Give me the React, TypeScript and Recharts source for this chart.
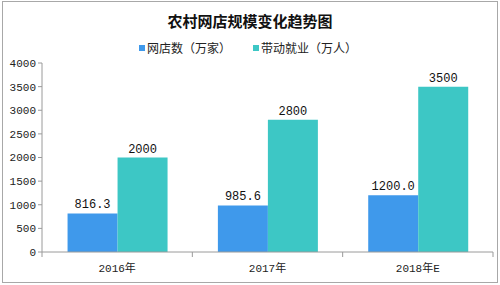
import { BarChart, Bar, XAxis, YAxis, LabelList } from "recharts";

const years = ["2016年", "2017年", "2018年E"];
const shopCounts = [816.3, 985.6, 1200.0];
const jobCounts = [2000, 2800, 3500];
const yTicks = [0, 500, 1000, 1500, 2000, 2500, 3000, 3500, 4000];

const SHOP_NAME = "网店数（万家）";
const JOB_NAME = "带动就业（万人）";
const BLUE = "#3f99eb";
const TEAL = "#3dc7c5";
const AXIS = "#9a9a9a";
const MONO = "'Liberation Mono', 'Noto Sans CJK SC', monospace";

const data = years.map((year, i) => ({ year, shops: shopCounts[i], jobs: jobCounts[i] }));

function CategoryTick(props: any) {
  const { x, y, payload, index, width } = props;
  const band = (width || 451) / years.length;
  const left = x - band / 2;
  return (
    <g>
      <line x1={left} y1={y - 8} x2={left} y2={y - 3} stroke={AXIS} />
      {index === years.length - 1 && (
        <line x1={left + band} y1={y - 8} x2={left + band} y2={y - 3} stroke={AXIS} />
      )}
      <text x={x} y={y + 12} textAnchor="middle" fontSize={11} fill="#222" fontFamily={MONO}>
        {payload.value}
      </text>
    </g>
  );
}

export default function App() {
  return (
    <div style={{ position: "absolute", left: 0, top: 0, width: 500, height: 285, background: "#fff" }}>
      <div
        style={{
          position: "absolute",
          left: 2,
          top: 1,
          width: 494,
          height: 280,
          border: "1px solid #a8a8a8",
          pointerEvents: "none",
        }}
      />
      <div
        style={{
          position: "absolute",
          top: 10,
          width: 500,
          textAlign: "center",
          fontFamily: "'Noto Sans CJK SC', sans-serif",
          fontWeight: 700,
          fontSize: 15,
          color: "#111",
        }}
      >
        农村网店规模变化趋势图
      </div>
      <div
        style={{
          position: "absolute",
          top: 40,
          left: 139,
          display: "flex",
          alignItems: "center",
          fontFamily: "'Noto Sans CJK SC', sans-serif",
          fontSize: 12,
          color: "#222",
          lineHeight: "16px",
        }}
      >
        <span style={{ width: 6, height: 6, background: BLUE, marginRight: 2 }} />
        <span>{SHOP_NAME}</span>
        <span style={{ width: 6, height: 6, background: TEAL, marginLeft: 22, marginRight: 2 }} />
        <span>{JOB_NAME}</span>
      </div>
      <BarChart
        width={500}
        height={285}
        data={data}
        margin={{ top: 63, right: 7, bottom: 3, left: 0 }}
        barCategoryGap="17%"
        barGap={0}
      >
        <YAxis
          width={42}
          domain={[0, 4000]}
          ticks={yTicks}
          interval={0}
          stroke={AXIS}
          tickSize={4}
          tick={{ fontSize: 11, fill: "#222", fontFamily: MONO }}
        />
        <XAxis
          dataKey="year"
          height={30}
          stroke={AXIS}
          tickLine={false}
          tick={<CategoryTick />}
          interval={0}
        />
        <Bar dataKey="shops" name={SHOP_NAME} fill={BLUE} isAnimationActive={false}>
          <LabelList
            dataKey="shops"
            position="top"
            offset={5}
            formatter={(v: any) => Number(v).toFixed(1)}
            style={{ fontSize: 12, fill: "#111", fontFamily: MONO }}
          />
        </Bar>
        <Bar dataKey="jobs" name={JOB_NAME} fill={TEAL} isAnimationActive={false}>
          <LabelList
            dataKey="jobs"
            position="top"
            offset={5}
            style={{ fontSize: 12, fill: "#111", fontFamily: MONO }}
          />
        </Bar>
      </BarChart>
    </div>
  );
}
